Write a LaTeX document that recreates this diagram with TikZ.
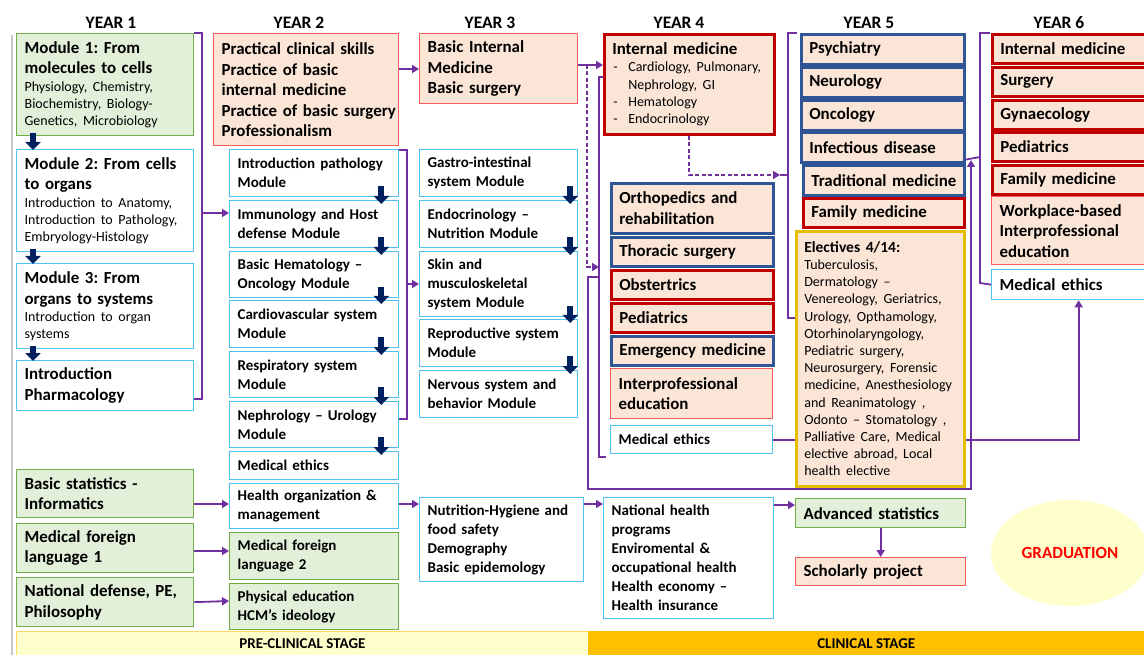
\documentclass[tikz,border=0pt]{standalone}
\usepackage{fontspec}
\setmainfont{Carlito}
\usepackage{xcolor}
\usepackage{tikz}
\usetikzlibrary{arrows.meta,shapes.geometric}

\definecolor{grnfill}{HTML}{E2F0D9}
\definecolor{grnline}{HTML}{70AD47}
\definecolor{orgfill}{HTML}{FBE5D6}
\definecolor{redline}{HTML}{FF5B5B}
\definecolor{darkred}{HTML}{C00000}
\definecolor{darkblue}{HTML}{2F5597}
\definecolor{bluline}{HTML}{4FC1F2}
\definecolor{goldline}{HTML}{E6BE00}
\definecolor{purp}{HTML}{7030A0}
\definecolor{navy}{HTML}{002060}
\definecolor{preyel}{HTML}{FFFFCC}
\definecolor{preline}{HTML}{FFD966}
\definecolor{clinorg}{HTML}{FFC000}

\frenchspacing
\newcommand\txthead{\bfseries\fontsize{17.5}{20}\selectfont}
\newcommand\txttitle{\bfseries\fontsize{16.9}{20.5}\selectfont}
\newcommand\txtsub{\mdseries\fontsize{14}{17.2}\selectfont}
\newcommand\txtmod{\bfseries\fontsize{15}{19}\selectfont}
\newcommand\txtbar{\bfseries\fontsize{15}{17}\selectfont}

\pgfdeclarelayer{bg}
\pgfsetlayers{bg,main}

\begin{document}
\begin{tikzpicture}[x=1pt,y=-1pt,
	box/.style={draw,anchor=north west,align=left,inner xsep=8pt,inner ysep=1pt,line width=1.3pt,font=\txttitle,
		execute at begin node={\rightskip=0pt plus 1fil minus 30pt}},
	sz/.code 2 args={\pgfmathsetmacro\bw{#1-16}\pgfkeysalso{minimum width=#1pt,minimum height=#2pt,text width=\bw pt}},
	grn/.style={box,draw=grnline,fill=grnfill},
	wht/.style={box,draw=bluline,fill=white},
	pnk/.style={box,draw=redline,fill=orgfill},
	dred/.style={box,draw=darkred,fill=orgfill,line width=2.6pt},
	dblu/.style={box,draw=darkblue,fill=orgfill,line width=2.6pt},
	ylw/.style={box,draw=goldline,fill=orgfill,line width=2.6pt},
	mod/.style={font=\txtmod},
	link/.style={draw=purp,line width=1.8pt},
	arr/.style={link,-{Triangle[length=7pt,width=8pt]}},
	dlink/.style={link,dash pattern=on 4pt off 2.5pt},
	down/.style={draw=navy,line width=6pt,-{Triangle[length=8pt,width=15pt]}}]

	\useasboundingbox (0,0) rectangle (1144,655);
	\clip (0,0) rectangle (1144,655);
	\draw[black!22,line width=1.5pt] (12,35) -- (12,655);

	\foreach \n/\x in {1/111,2/299,3/490,4/679,5/869,6/1059}
		\node[font=\txthead] (h\n) at (\x,23) {YEAR \n};

	% year 1
	\node[grn,sz={177}{102}] (m1) at (16,33) {Module 1: From\\molecules to cells\par{\txtsub Physiology, Chemistry,\\Biochemistry, Biology-\\Genetics, Microbiology\par}};
	\node[wht,sz={177}{102}] (m2) at (16,149) {Module 2: From cells\\to organs\par{\txtsub Introduction to Anatomy,\\Introduction to Pathology,\\Embryology-Histology\par}};
	\node[wht,sz={177}{85}] (m3) at (16,263) {Module 3: From\\organs to systems\par{\txtsub Introduction to organ\\systems\par}};
	\node[wht,sz={177}{50}] (pharm) at (16,360) {Introduction\\Pharmacology};
	\node[grn,sz={177}{48}] (bst) at (16,469) {Basic statistics -\\Informatics};
	\node[grn,sz={177}{49}] (mfl1) at (16,523) {Medical foreign\\language 1};
	\node[grn,sz={177}{49}] (nd) at (16,577) {National defense, PE,\\Philosophy};

	% year 2
	\node[pnk,sz={185}{112}] (pcs) at (213,33) {Practical clinical skills\\Practice of basic\\internal medicine\\Practice of basic surgery\\Professionalism};
	\node[wht,mod,sz={169}{47}] (ipath) at (229,149) {Introduction pathology\\Module};
	\node[wht,mod,sz={169}{47}] (imm) at (229,200) {Immunology and Host\\defense Module};
	\node[wht,mod,sz={169}{46}] (hem) at (229,251) {Basic Hematology --\\Oncology Module};
	\node[wht,mod,sz={169}{47}] (cardio) at (229,300) {Cardiovascular system\\Module};
	\node[wht,mod,sz={169}{46}] (resp) at (229,351) {Respiratory system\\Module};
	\node[wht,mod,sz={169}{46}] (neph) at (229,401) {Nephrology -- Urology\\Module};
	\node[wht,mod,sz={169}{28}] (me2) at (229,451) {Medical ethics};
	\node[wht,mod,sz={169}{45}] (health) at (229,483) {Health organization \&\\management};
	\node[grn,mod,sz={169}{47}] (mfl2) at (229,532) {Medical foreign\\language 2};
	\node[grn,mod,sz={169}{46}] (pe) at (229,583) {Physical education\\HCM’s ideology};

	% year 3
	\node[pnk,sz={158}{70}] (bim) at (419,33) {Basic Internal\\Medicine\\Basic surgery};
	\node[wht,mod,sz={158}{47}] (gi) at (419,149) {Gastro-intestinal\\system Module};
	\node[wht,mod,sz={158}{47}] (endo) at (419,200) {Endocrinology --\\Nutrition Module};
	\node[wht,mod,sz={158}{65}] (skin) at (419,251) {Skin and\\musculoskeletal\\system Module};
	\node[wht,mod,sz={158}{47}] (repro) at (419,319) {Reproductive system\\Module};
	\node[wht,mod,sz={158}{47}] (nerv) at (419,370) {Nervous system and\\behavior Module};
	\node[wht,mod,sz={164}{84}] (nut) at (419,497) {Nutrition-Hygiene and\\food safety\\Demography\\Basic epidemology};

	% year 4
	\node[dred,sz={170}{100}] (im) at (603,33) {Internal medicine\par{\txtsub\hspace*{1pt}\makebox[15pt][l]{-}Cardiology, Pulmonary,\\\hspace*{16pt}Nephrology, GI\\\hspace*{1pt}\makebox[15pt][l]{-}Hematology\\\hspace*{1pt}\makebox[15pt][l]{-}Endocrinology\par}};
	\node[dblu,sz={162}{50}] (orth) at (610,182) {Orthopedics and\\rehabilitation};
	\node[dblu,sz={162}{29}] (thor) at (610,236) {Thoracic surgery};
	\node[dred,sz={162}{29}] (obs) at (610,269) {Obstertrics};
	\node[dred,sz={162}{29}] (ped4) at (610,302) {Pediatrics};
	\node[dblu,sz={162}{29}] (emer) at (610,335) {Emergency medicine};
	\node[pnk,sz={162}{50}] (ipe) at (610,368) {Interprofessional\\education};
	\node[wht,mod,sz={162}{28}] (me4) at (610,425) {Medical ethics};
	\node[wht,mod,sz={170}{121}] (nhp) at (603,497) {National health\\programs\\Enviromental \&\\occupational health\\Health economy --\\Health insurance};

	% year 5
	\node[dblu,sz={163}{30}] (psy) at (800,33) {Psychiatry};
	\node[dblu,sz={163}{30}] (neu) at (800,66) {Neurology};
	\node[dblu,sz={163}{30}] (onc) at (800,99) {Oncology};
	\node[dblu,sz={163}{30}] (inf) at (800,131) {Infectious disease};
	\node[dblu,sz={161}{30}] (trad) at (802,164) {Traditional medicine};
	\node[dred,sz={161}{29}] (fam5) at (802,197) {Family medicine};
	\node[ylw,sz={168}{255}] (elec) at (795,230) {{\bfseries\fontsize{15.5}{19}\selectfont Electives 4/14:\par}{\txtsub Tuberculosis,\\Dermatology --\\Venereology, Geriatrics,\\Urology, Opthamology,\\Otorhinolaryngology,\\Pediatric surgery,\\Neurosurgery, Forensic\\medicine, Anesthesiology\\and Reanimatology ,\\Odonto -- Stomatology ,\\Palliative Care, Medical\\elective abroad, Local\\health elective\par}};
	\node[grn,sz={170}{29}] (adv) at (795,498) {Advanced statistics};
	\node[pnk,sz={170}{28}] (sp) at (795,557) {Scholarly project};

	% year 6
	\node[dred,sz={174}{29}] (im6) at (991,33) {Internal medicine};
	\node[dred,sz={174}{29}] (sur) at (991,66) {Surgery};
	\node[dred,sz={174}{29}] (gyn) at (991,99) {Gynaecology};
	\node[dred,sz={174}{29}] (ped6) at (991,131) {Pediatrics};
	\node[dred,sz={174}{29}] (fam6) at (991,164) {Family medicine};
	\node[pnk,sz={174}{68}] (wpb) at (991,196) {Workplace-based\\Interprofessional\\education};
	\node[wht,sz={174}{30}] (me6) at (991,269) {Medical ethics};

	\node[ellipse,fill=preyel,minimum width=158pt,minimum height=106pt,text=red,font=\bfseries\fontsize{17}{20}\selectfont] (grad) at (1070,553) {GRADUATION};

	\node[draw=preline,fill=preyel,line width=0.8pt,anchor=north west,minimum width=572pt,minimum height=24pt,font=\txtbar] (pre) at (16,631) {PRE-CLINICAL STAGE};
	\node[fill=clinorg,anchor=north west,minimum width=556pt,minimum height=24pt,font=\txtbar] (clin) at (588,631) {CLINICAL STAGE};

	\coordinate (b1) at (201,213);
	\coordinate (b2) at (406,284);
	\coordinate (b4m) at (599,267);
	\coordinate (b4n) at (599,277);
	\coordinate (lp) at (588,489);
	\coordinate (b5m) at (780,175);
	\coordinate (b6m) at (980,157);
	\coordinate (b6a) at (971,160);

	\foreach \a/\b in {m1/m2,m2/m3,m3/pharm}
		\draw[down] ([xshift=17pt,yshift=3pt]\a.south west) -- ([xshift=17pt,yshift=-1pt]\b.north west);
	\foreach \a/\b in {ipath/imm,imm/hem,hem/cardio,cardio/resp,resp/neph,neph/me2}
		\draw[down] ([xshift=-18pt,yshift=11pt]\a.south east) -- ([xshift=-18pt,yshift=-4pt]\b.north east);
	\foreach \a/\b in {gi/endo,endo/skin,skin/repro,repro/nerv}
		\draw[down] ([xshift=-8pt,yshift=11pt]\a.south east) -- ([xshift=-8pt,yshift=-4pt]\b.north east);

	\begin{pgfonlayer}{bg}
	\fill[white] (0,0) rectangle (1144,655);
	\draw[link] (m1.north east) -- ++(8,0) |- ([yshift=12pt]pharm.south east);
	\draw[arr] (b1) -- (b1 -| imm.west);
	\draw[link] ([yshift=-1pt]ipath.north east) -- ++(8,0) |- ([yshift=29pt]neph.south east);
	\draw[arr] (b2) -- (b2 -| skin.west);

	\draw[arr] ([yshift=-36pt]pcs.north east) -- ([yshift=-36pt]bim.north west);
	\draw[arr] ([yshift=-32pt]bim.north east) -- ([yshift=-32pt]im.north west);
	\draw[dlink,-{Triangle[length=7pt,width=8pt]}] ([xshift=9pt,yshift=-32pt]bim.north east) |- (b4m);
	\draw[link] (605,77) -- (599,77) -- (599,457) -- (606,457);
	\draw[arr] (b4n) -| (lp) -| (b6a);

	\draw[dlink,-{Triangle[length=7pt,width=8pt]}] (im.south) |- (b5m);
	\draw[link] (797,33) -- (788,33) -- (788,318) -- (797,318);
	\draw[link] (b5m) -- (788,175);
	\draw[link] (990,33) -- (980,33) -- (980,283) -- (me6.west);
	\draw[link] ([yshift=4pt]inf.south east) -- (b6m);
	\draw[arr] (me4.east) -| (me6.south);

	\draw[arr] ([yshift=-35pt]bst.north east) -- ([yshift=-21pt]health.north west);
	\draw[arr] ([yshift=-28pt]mfl1.north east) -- ([yshift=-19pt]mfl2.north west);
	\draw[arr] (nd.east) -- ([yshift=-18pt]pe.north west);
	\draw[arr] ([yshift=-21pt]health.north east) -- ([yshift=-7pt]nut.north west);
	\draw[arr] ([yshift=-7pt]nut.north east) -- ([yshift=-7pt]nhp.north west);
	\draw[arr] ([yshift=-8pt]nhp.north east) -- ([yshift=-7pt]adv.north west);
	\draw[arr] (adv.south) -- (sp.north);
	\end{pgfonlayer}
\end{tikzpicture}
\end{document}
